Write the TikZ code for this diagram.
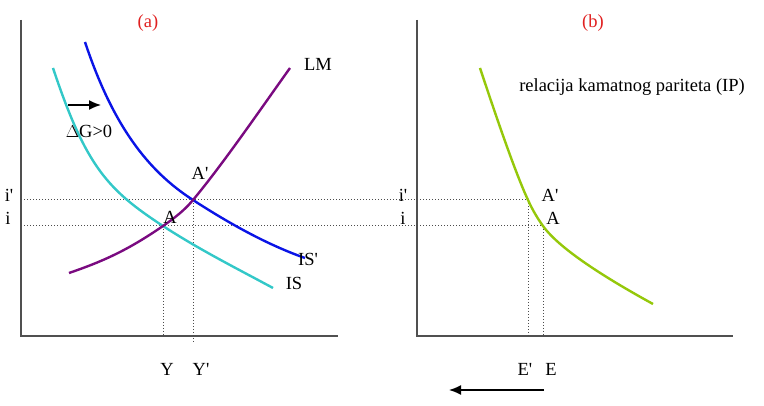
\documentclass[tikz,border=0pt]{standalone}
\usepackage{fontspec}
\setmainfont{Liberation Serif}[Ligatures=TeXOff]
\usetikzlibrary{arrows.meta}
\definecolor{isblue}{HTML}{0A14E6}
\definecolor{iscyan}{HTML}{33C8C8}
\definecolor{lmpurple}{HTML}{7A0A80}
\definecolor{ipgreen}{HTML}{95C80A}
\definecolor{axisgray}{HTML}{505050}
\definecolor{lblred}{HTML}{E02020}
\begin{document}
\begin{tikzpicture}[x=1pt,y=-1pt,
  lbl/.style={inner sep=0pt, font=\fontsize{18.5}{21}\selectfont, text=black},
  axisline/.style={line width=1.8pt, draw=axisgray},
  guide/.style={dotted, line width=1pt, draw=black!70},
  curve/.style={line width=2.4pt},
  shiftarrow/.style={line width=1.5pt, -{Latex[length=12pt,width=10pt]}}]
\useasboundingbox (0,0) rectangle (764,406);
% points
\coordinate (A) at (163,226);
\coordinate (Ap) at (193,200);
\coordinate (B) at (543,226);
\coordinate (Bp) at (528,200);
\coordinate (Li) at (21,226);
\coordinate (Lip) at (21,200);
% axes
\draw[axisline] (21,20) -- (21,336) -- (338,336);
\draw[axisline] (417,20) -- (417,336) -- (733,336);
% guides
\draw[guide] (Lip) -- (Bp);
\draw[guide] (Li) -- (B);
\draw[guide] (A) -- (163,336);
\draw[guide] (Ap) -- (193,342);
\draw[guide] (Bp) -- (528,336);
\draw[guide] (B) -- (543,336);
% curves
\draw[curve, iscyan] (53,68) .. controls (86,167) and (108,190) .. (A)
  .. controls (200,250) and (236,268) .. (273,288);
\draw[curve, isblue] (85,42) .. controls (113,126) and (148,171) .. (Ap)
  .. controls (230,224) and (268,245) .. (305,258);
\draw[curve, lmpurple] (69,273) .. controls (104,261) and (128,250) .. (A)
  .. controls (173,219) and (184,211) .. (Ap)
  .. controls (223,164) and (260,110) .. (290,68);
\draw[curve, ipgreen] (480,68) .. controls (492,104) and (514,170) .. (Bp)
  .. controls (533,211) and (538,219) .. (B)
  .. controls (561,251) and (613,282) .. (653,304);
% labels
\node[lbl, text=lblred] (ta) at (148,23) {(a)};
\node[lbl, text=lblred] (tb) at (593,23) {(b)};
\node[lbl] (lm) at (318,64) {LM};
\node[lbl] (isp) at (308,259) {IS'};
\node[lbl] (is) at (294,283) {IS};
\node[lbl] (lap) at (200,173) {A'};
\node[lbl] (la) at (170,217) {A};
\node[lbl] (ip) at (9,195) {i'};
\node[lbl] (i) at (8,218) {i};
\node[lbl] (ly) at (167,369) {Y};
\node[lbl] (lyp) at (201,369) {Y'};
\node[lbl] (dg) at (89,131) {$\Delta$G>0};
\coordinate (g1) at (68,105);
\coordinate (g2) at (101,105);
\draw[shiftarrow] (g1) -- (g2);
\node[lbl] (ipb) at (403,195) {i'};
\node[lbl] (ib) at (403,218) {i};
\node[lbl] (lbp) at (550,195) {A'};
\node[lbl] (lb) at (553,218) {A};
\node[lbl] (rel) at (632,87) {relacija kamatnog pariteta (IP)};
\node[lbl] (ep) at (525,369) {E'};
\node[lbl] (e) at (551,369) {E};
\coordinate (e1) at (544,390);
\coordinate (e2) at (449,390);
\draw[shiftarrow] (e1) -- (e2);
\end{tikzpicture}
\end{document}
